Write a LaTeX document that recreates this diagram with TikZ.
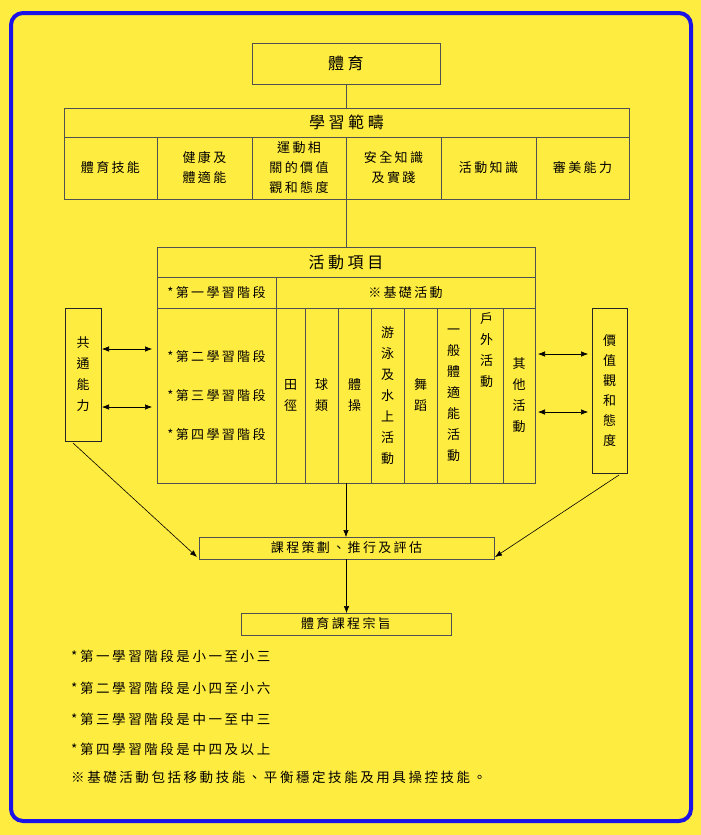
\documentclass[tikz,border=0pt]{standalone}
\usepackage{fontspec}
\newfontfamily\zh{Noto Sans CJK TC}[LetterSpace=18]
\newfontfamily\zhnote{Noto Sans CJK TC}[LetterSpace=19]
\newfontfamily\zhhead{Noto Sans CJK TC}[LetterSpace=22]
\newfontfamily\zhv{Noto Sans CJK TC}
\usepackage{tikz}
\usetikzlibrary{arrows.meta, positioning}
\definecolor{pageyellow}{RGB}{255,236,64}
\definecolor{frameblue}{RGB}{28,20,230}
\definecolor{rulegray}{RGB}{80,80,80}

\begin{document}
\begin{tikzpicture}[
    x=1pt, y=-1pt,
    box/.style={rectangle, draw=rulegray, line width=0.9pt, inner sep=0pt, outer sep=0pt,
                align=center, font=\zh\fontsize{13}{20}\selectfont},
    head/.style={box, font=\zhhead\fontsize{16}{20}\selectfont},
    vcol/.style={box, minimum height=175pt, font=\zhv\fontsize{13}{21}\selectfont},
    sidebox/.style={box, draw=black!85, font=\zhv\fontsize{13}{21}\selectfont},
    note/.style={anchor=west, inner sep=0pt, font=\zhnote\fontsize{13.5}{20}\selectfont},
    arrow/.style={-{Latex[length=7pt,width=5.5pt]}, line width=0.6pt},
    dbl/.style={{Latex[length=7pt,width=5.5pt]}-{Latex[length=7pt,width=5.5pt]}, line width=0.6pt},
    link/.style={draw=rulegray, line width=0.9pt}
]
  \fill[pageyellow] (0,0) rectangle (701,835);
  \draw[frameblue, line width=4pt, rounded corners=12pt] (11,13) rectangle (691,821);
  \useasboundingbox (0,0) rectangle (701,835);

  \node[head, minimum width=188pt, minimum height=41pt] (pe) at (346,63.5) {體育};

  \node[head, minimum width=565pt, minimum height=29pt] (scope) at (346.5,122.5) {學習範疇};
  \node[box, minimum width=93pt, minimum height=62pt] (skill) at (110.5,168) {體育技能};
  \node[box, minimum width=95pt, minimum height=62pt, right=0pt of skill] (health) {健康及\\體適能};
  \node[box, minimum width=94pt, minimum height=62pt, right=0pt of health] (attitude) {運動相\\關的價值\\觀和態度};
  \node[box, minimum width=95pt, minimum height=62pt, right=0pt of attitude] (safety) {安全知識\\及實踐};
  \node[box, minimum width=95pt, minimum height=62pt, right=0pt of safety] (know) {活動知識};
  \node[box, minimum width=93pt, minimum height=62pt, right=0pt of know] (aesth) {審美能力};

  \node[head, minimum width=378pt, minimum height=30pt] (act) at (346,262) {活動項目};
  \node[box, minimum width=119pt, minimum height=31pt] (stage1) at (216.5,292.5) {*第一學習階段};
  \node[box, minimum width=259pt, minimum height=31pt, right=0pt of stage1] (basic) {※基礎活動};
  \node[box, minimum width=119pt, minimum height=175pt, align=left,
        font=\zh\fontsize{13}{39}\selectfont] (stages) at (216.5,395.5)
    {*第二學習階段\\*第三學習階段\\*第四學習階段};
  \node[vcol, minimum width=29pt, right=0pt of stages] (track) {田\\徑};
  \node[vcol, minimum width=33pt, right=0pt of track] (ball) {球\\類};
  \node[vcol, minimum width=33pt, right=0pt of ball] (gym) {體\\操};
  \node[vcol, minimum width=33pt, right=0pt of gym] (swim) {游\\泳\\及\\水\\上\\活\\動};
  \node[vcol, minimum width=33pt, right=0pt of swim] (dance) {舞\\蹈};
  \node[vcol, minimum width=33pt, right=0pt of dance] (fitness) {一\\般\\體\\適\\能\\活\\動};
  \node[vcol, minimum width=33pt, right=0pt of fitness] (outdoor) {};
  \node[vcol, minimum width=32pt, right=0pt of outdoor] (other) {其\\他\\活\\動};
  \node[align=center, anchor=north, inner sep=0pt, font=\zhv\fontsize{13}{21}\selectfont]
    (outtxt) at ([yshift=-4pt]outdoor.north) {戶\\外\\活\\動};

  \node[sidebox, minimum width=36pt, minimum height=133pt] (common) at (83,374.5) {共\\通\\能\\力};
  \node[sidebox, minimum width=35pt, minimum height=165pt,
        font=\zhv\fontsize{13}{20}\selectfont] (values) at (609.5,390.5) {價\\值\\觀\\和\\態\\度};

  \node[box, minimum width=295pt, minimum height=22pt] (plan) at (346.5,548) {課程策劃、推行及評估};
  \node[box, minimum width=210pt, minimum height=22pt] (aim) at (346,624) {體育課程宗旨};

  \node[note] (n1) at (71,656) {*第一學習階段是小一至小三};
  \node[note] (n2) at (71,688) {*第二學習階段是小四至小六};
  \node[note] (n3) at (71,719) {*第三學習階段是中一至中三};
  \node[note] (n4) at (71,749) {*第四學習階段是中四及以上};
  \node[note] (n5) at (71,777) {※基礎活動包括移動技能、平衡穩定技能及用具操控技能。};

  \draw[link] (pe) -- (pe |- scope.north);
  \draw[link] (attitude.south east) -- (attitude.south east |- act.north);
  \draw[dbl] ([xshift=1pt,yshift=25.5pt]common.east) -- ([xshift=-5pt,yshift=25.5pt]common.east -| stages.west);
  \draw[dbl] ([xshift=1pt,yshift=-32.5pt]common.east) -- ([xshift=-5pt,yshift=-32.5pt]common.east -| stages.west);
  \draw[dbl] ([xshift=3pt,yshift=36.5pt]values.west -| other.east) -- ([xshift=-4pt,yshift=36.5pt]values.west);
  \draw[dbl] ([xshift=3pt,yshift=-21.5pt]values.west -| other.east) -- ([xshift=-4pt,yshift=-21.5pt]values.west);
  \draw[arrow] (act |- gym.south) -- (act |- plan.north);
  \draw[arrow] ([xshift=8pt,yshift=-2pt]common.south west) -- ([xshift=-2pt,yshift=2pt]plan.south west);
  \draw[arrow] ([xshift=-8pt,yshift=-2pt]values.south east) -- ([xshift=1pt,yshift=2pt]plan.south east);
  \draw[arrow] (plan.south) -- (plan.south |- aim.north);
\end{tikzpicture}
\end{document}
